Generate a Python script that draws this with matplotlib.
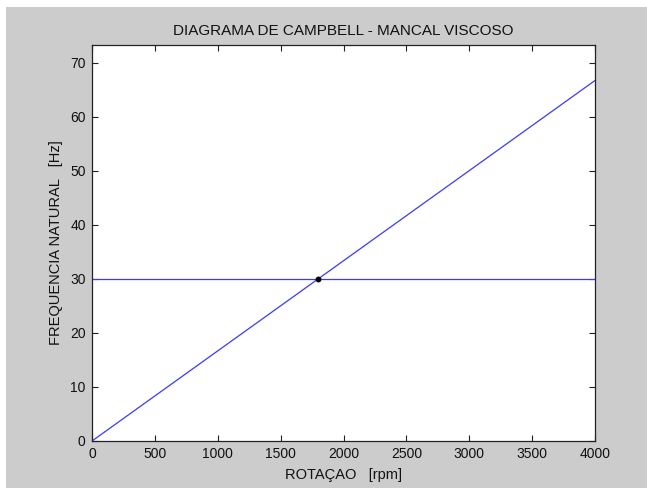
import matplotlib
matplotlib.use("Agg")
import matplotlib.pyplot as plt
from matplotlib.patches import Rectangle

# Data
rotation_rpm = [0, 4000]
freq_1x = [0, 66.67]
natural_freq_rpm = [0, 4000]
natural_freq_hz = [30, 30]
critical_rpm = [1800]
critical_hz = [30]

x_ticks = [0, 500, 1000, 1500, 2000, 2500, 3000, 3500, 4000]
y_ticks = [0, 10, 20, 30, 40, 50, 60, 70]

plt.rcParams['font.family'] = ['Liberation Sans', 'DejaVu Sans']

W, H = 647, 488
fig = plt.figure(figsize=(W / 100, H / 100), dpi=100, facecolor='white')
fig.patches.append(Rectangle((6 / W, 0), 1 - 6 / W, 1 - 7 / H, transform=fig.transFigure,
                             facecolor='#cccccc', edgecolor='none', zorder=-10))

left, right, top, bottom = 92, 595, 44.5, 441
ax = fig.add_axes([left / W, (H - bottom) / H, (right - left) / W, (bottom - top) / H])
ax.set_facecolor('white')

ax.plot(rotation_rpm, freq_1x, color='#3a3aff', lw=0.9)
ax.plot(natural_freq_rpm, natural_freq_hz, color='#3a3aff', lw=0.9)
ax.plot(critical_rpm, critical_hz, 'o', color='black', markersize=3.2)

ax.set_xlim(0, 4000)
ax.set_ylim(0, 73.33)
ax.set_xticks(x_ticks)
ax.set_yticks(y_ticks)
ax.tick_params(direction='in', length=4, width=0.8, top=True, right=True,
               labelsize=10, colors='#222222', labelcolor='#111111', pad=4.5)
for s in ax.spines.values():
    s.set_linewidth(0.9)
    s.set_color('#222222')

ax.set_title('DIAGRAMA DE CAMPBELL - MANCAL VISCOSO', fontsize=11, pad=7, color='#111111')
ax.set_xlabel('ROTAÇAO   [rpm]', fontsize=10.5, labelpad=5, color='#111111')
ax.set_ylabel('FREQUENCIA NATURAL   [Hz]', fontsize=10.5, labelpad=5, color='#111111')

fig.savefig('out.png', dpi=100, facecolor='white')
